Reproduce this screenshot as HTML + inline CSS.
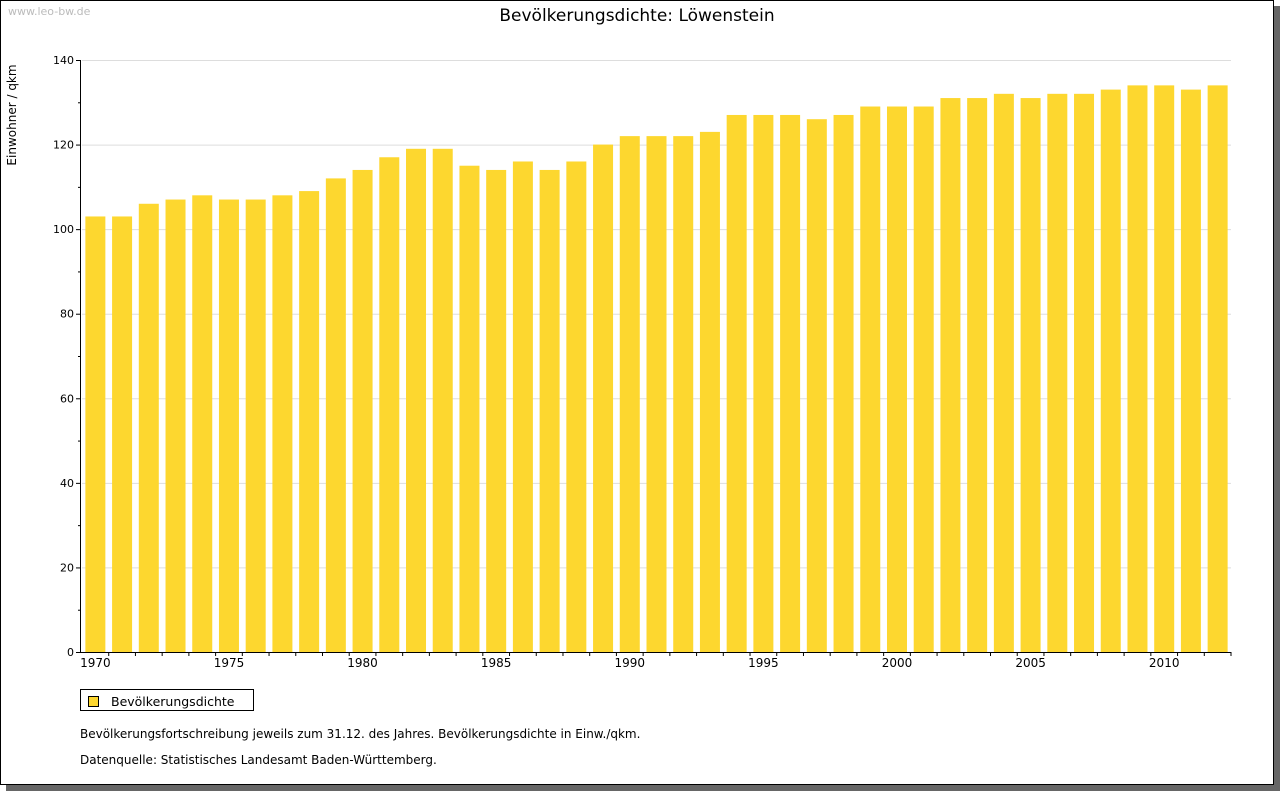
<!DOCTYPE html>
<html><head><meta charset="utf-8"><style>
body{margin:0;width:1280px;height:791px;background:#fff;font-family:"DejaVu Sans","Liberation Sans",sans-serif;overflow:hidden}
#frame{position:absolute;left:0;top:0;width:1272px;height:783px;border:1px solid #000;background:#fff}
#shadow{position:absolute;left:6px;top:6px;width:1274px;height:785px;background:#666}
svg{position:absolute;left:0;top:0}
</style></head><body>
<div id="shadow"></div>
<div id="frame"></div>
<svg width="1280" height="791">
<text x="8" y="15" font-size="11" fill="#bbb">www.leo-bw.de</text>
<text x="637" y="21" font-size="17" text-anchor="middle">Bevölkerungsdichte: Löwenstein</text>
<text transform="translate(16,115) rotate(-90)" font-size="12" text-anchor="middle">Einwohner / qkm</text>
<g id="grid"></g><g id="bars"></g><g id="axes"></g>
<rect x="80.5" y="689.5" width="173" height="21" fill="#fff" stroke="#000"/>
<rect x="88.5" y="696.5" width="10" height="10" fill="#FDD72F" stroke="#000"/>
<text x="111" y="706" font-size="12.5">Bevölkerungsdichte</text>
<text x="80" y="738" font-size="12">Bevölkerungsfortschreibung jeweils zum 31.12. des Jahres. Bevölkerungsdichte in Einw./qkm.</text>
<text x="80" y="764" font-size="12">Datenquelle: Statistisches Landesamt Baden-Württemberg.</text>
</svg>
<script>
const years=[1970,1971,1972,1973,1974,1975,1976,1977,1978,1979,1980,1981,1982,1983,1984,1985,1986,1987,1988,1989,1990,1991,1992,1993,1994,1995,1996,1997,1998,1999,2000,2001,2002,2003,2004,2005,2006,2007,2008,2009,2010,2011,2012];
const values=[103,103,106,107,108,107,107,108,109,112,114,117,119,119,115,114,116,114,116,120,122,122,122,123,127,127,127,126,127,129,129,129,131,131,132,131,132,132,133,134,134,133,134];
const yTicks=[0,20,40,60,80,100,120,140];
const xLabels=[1970,1975,1980,1985,1990,1995,2000,2005,2010];
const NS='http://www.w3.org/2000/svg';
const X0=82,X1=1231,Y0=652,Y1=60,YMAX=140;
const bw=(X1-X0)/years.length;
const y=v=>Y0-(v/YMAX)*(Y0-Y1);
const xc=i=>X0+bw*(i+0.5);
function mk(t,a,p){const e=document.createElementNS(NS,t);for(const k in a)e.setAttribute(k,a[k]);document.getElementById(p).appendChild(e);return e;}
yTicks.forEach(t=>{
 if(t>0){const g=mk('line',{x1:X0,x2:X1,y1:y(t)+.5,y2:y(t)+.5,stroke:'#ddd'},'grid');
 
 }
 const l=mk('text',{x:74,y:y(t)+4,'font-size':11,'text-anchor':'end'},'axes');l.textContent=t;
 
 
 mk('line',{x1:76,x2:81,y1:y(t)+.5,y2:y(t)+.5,stroke:'#000'},'axes');
 if(t<140) mk('line',{x1:78,x2:81,y1:y(t+10)+.5,y2:y(t+10)+.5,stroke:'#000'},'axes');
});
values.forEach((v,i)=>{
 const r=mk('rect',{x:xc(i)-10,y:y(v),width:20,height:Y0-y(v),fill:'#FDD72F'},'bars');
 
 
 const tx=X0+bw*(i+1);
 mk('line',{x1:tx,x2:tx,y1:Y0,y2:Y0+4,stroke:'#000'},'axes');
});
xLabels.forEach(yr=>{
 const i=years.indexOf(yr);
 const t=mk('text',{x:xc(i),y:667,'font-size':12,'text-anchor':'middle'},'axes');t.textContent=yr;
 
 
});
const ya=mk('line',{x1:80.5,x2:80.5,y1:Y1,y2:Y0+1,stroke:'#000'},'axes');


const xa=mk('line',{x1:80,x2:X1,y1:Y0+.5,y2:Y0+.5,stroke:'#000'},'axes');


</script>
</body></html>
